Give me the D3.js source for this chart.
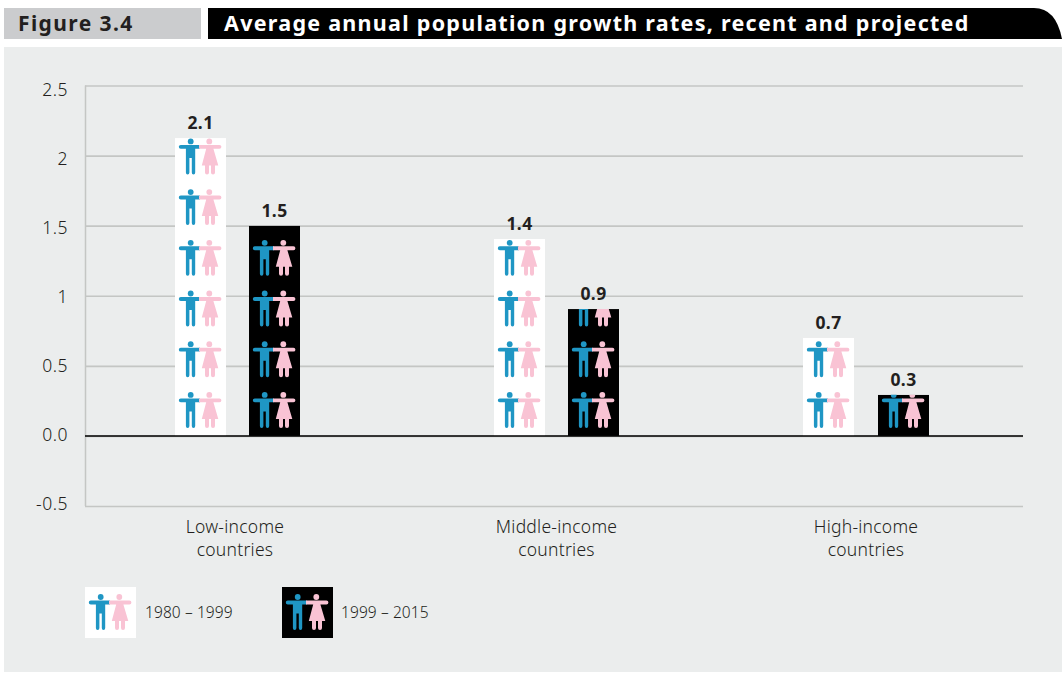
<!DOCTYPE html>
<html><head><meta charset="utf-8">
<script src="https://cdn.jsdelivr.net/npm/d3@7"></script>
<style>
html,body{margin:0;padding:0;background:#fff}
svg{display:block}
text{font-family:"Noto Sans","Open Sans",sans-serif;fill:#231f20}
</style></head><body>
<div id="chart"></div>
<script>
const categories = [["Low-income","countries"],["Middle-income","countries"],["High-income","countries"]];
const seriesNames = ["1980 – 1999","1999 – 2015"];
const labels1980 = ["2.1","1.4","0.7"];
const labels1999 = ["1.5","0.9","0.3"];
const heights1980 = [2.125,1.405,0.7];
const heights1999 = [1.5,0.905,0.293];
const yTicks = [-0.5,0,0.5,1,1.5,2,2.5];
const yTickLabels = ["-0.5","0.0","0.5","1","1.5","2","2.5"];

const W=1063,H=673;
const BLUE="#1f96c4",PINK="#f9c3d4",TILE=51,PERIOD=50.7;
const svg=d3.select("#chart").append("svg").attr("width",W).attr("height",H);
const defs=svg.append("defs");

// Pictogram drawn in a 51x51 tile
const icon=defs.append("g").attr("id","pair");
const man=icon.append("g").attr("fill",BLUE);
man.append("circle").attr("cx",15.7).attr("cy",10).attr("r",2.9);
man.append("path").attr("d","M5.8,13.5 H25 V17.4 H20.2 V41 Q20.2,43 18.5,43 Q16.8,43 16.8,41 V26.5 H14.4 V41 Q14.4,43 12.6,43 Q10.9,43 10.9,41 V17.4 H5.8 Q3.8,17.4 3.8,15.45 Q3.8,13.5 5.8,13.5 Z");
const woman=icon.append("g").attr("fill",PINK);
woman.append("circle").attr("cx",34.3).attr("cy",10).attr("r",2.9);
woman.append("path").attr("d","M24,13.5 H44.4 Q46.4,13.5 46.4,15.45 Q46.4,17.4 44.4,17.4 H38.4 L43.3,34 H40 V41 Q40,43 38,43 Q36,43 36,41 V34 H34 V41 Q34,43 32,43 Q30,43 30,41 V34 H26.8 L31.2,17.4 H24 Z");

svg.append("rect").attr("x",4).attr("y",47).attr("width",1058).attr("height",625).attr("fill","#ebeded");
svg.append("rect").attr("x",4).attr("y",8).attr("width",197).attr("height",31).attr("fill","#cbccce");
const hp=d3.path();
hp.moveTo(208,8);hp.lineTo(1034,8);hp.quadraticCurveTo(1056,8,1062,39);hp.lineTo(208,39);hp.closePath();
svg.append("path").attr("d",hp.toString()).attr("fill","#000");
svg.append("text").attr("x",18).attr("y",31).attr("font-size",21).attr("font-weight",700).attr("letter-spacing",1.4).text("Figure 3.4");
svg.append("text").attr("x",224).attr("y",31).attr("font-size",21.5).attr("font-weight",700).attr("letter-spacing",1.27).style("fill","#fff").text("Average annual population growth rates, recent and projected");

const y=d3.scaleLinear().domain([-0.5,2.5]).range([506,85.5]);
const yLabel=d3.scaleLinear().domain([-0.5,2.5]).range([503,89]);
const names=categories.map(d=>d[0]);
const xLeft=d3.scaleOrdinal().domain(names).range([175,494,803]);
const xLeft2=d3.scaleOrdinal().domain(names).range([249,568,878]);
const xCenter=d3.scaleOrdinal().domain(names).range([235,556.5,866]);

// grid + axis
const axis=d3.axisLeft(y).tickValues(yTicks).tickFormat((d,i)=>yTickLabels[i]).tickSize(-(1023-85)).tickPadding(17);
const gAxis=svg.append("g").attr("transform","translate(85,0)").call(axis);
gAxis.select(".domain").attr("stroke","#c4c6c4").attr("stroke-width",1.5).attr("d","M0.5,85.5V506");
gAxis.selectAll(".tick line").attr("stroke","#c4c6c4").attr("stroke-width",1.6);
gAxis.selectAll(".tick text").attr("font-size",17.5).attr("font-weight",300).attr("letter-spacing",0.5)
  .attr("dy",null).attr("y",d=>yLabel(d)-y(d)+6)
  .style("font-family",'"Noto Sans",sans-serif').style("fill","#231f20");

function drawBars(heights,labels,left,bg,idx){
  categories.forEach((c,i)=>{
    const x=left(c[0]), top=y(heights[i]), base=y(0);
    const id="clip"+idx+"_"+i;
    defs.append("clipPath").attr("id",id).append("rect").attr("x",x).attr("y",top).attr("width",TILE).attr("height",base-top);
    const g=svg.append("g").attr("clip-path","url(#"+id+")");
    g.append("rect").attr("x",x).attr("y",top).attr("width",TILE).attr("height",base-top).attr("fill",bg);
    const n=Math.ceil((base-top)/PERIOD);
    g.selectAll("use").data(d3.range(n)).join("use").attr("href","#pair")
      .attr("x",x).attr("y",k=>base-TILE-k*PERIOD);
    svg.append("text").attr("x",x+TILE/2).attr("y",top-9).attr("text-anchor","middle")
      .attr("font-size",17.5).attr("font-weight",700).attr("letter-spacing",0.4).text(labels[i]);
  });
}
drawBars(heights1980,labels1980,xLeft,"#fff",0);
drawBars(heights1999,labels1999,xLeft2,"#000",1);

svg.append("line").attr("x1",85).attr("x2",1023).attr("y1",y(0)).attr("y2",y(0)).attr("stroke","#000").attr("stroke-width",1.5);

categories.forEach(c=>{
  c.forEach((t,j)=>{
    svg.append("text").attr("x",xCenter(c[0])).attr("y",533+j*23).attr("text-anchor","middle").attr("font-size",17.5).attr("font-weight",300).attr("letter-spacing",0.25).text(t);
  });
});

// legend
const legX=d3.scaleOrdinal().domain(seriesNames).range([85,282]);
seriesNames.forEach((s,i)=>{
  const x=legX(s);
  svg.append("rect").attr("x",x).attr("y",587).attr("width",TILE).attr("height",TILE).attr("fill",i?"#000":"#fff");
  svg.append("use").attr("href","#pair").attr("x",x).attr("y",587);
  svg.append("text").attr("x",x+(i?59:60)).attr("y",618).attr("font-size",15.5).attr("font-weight",300).attr("letter-spacing",0.1).text(s);
});
</script>
</body></html>
